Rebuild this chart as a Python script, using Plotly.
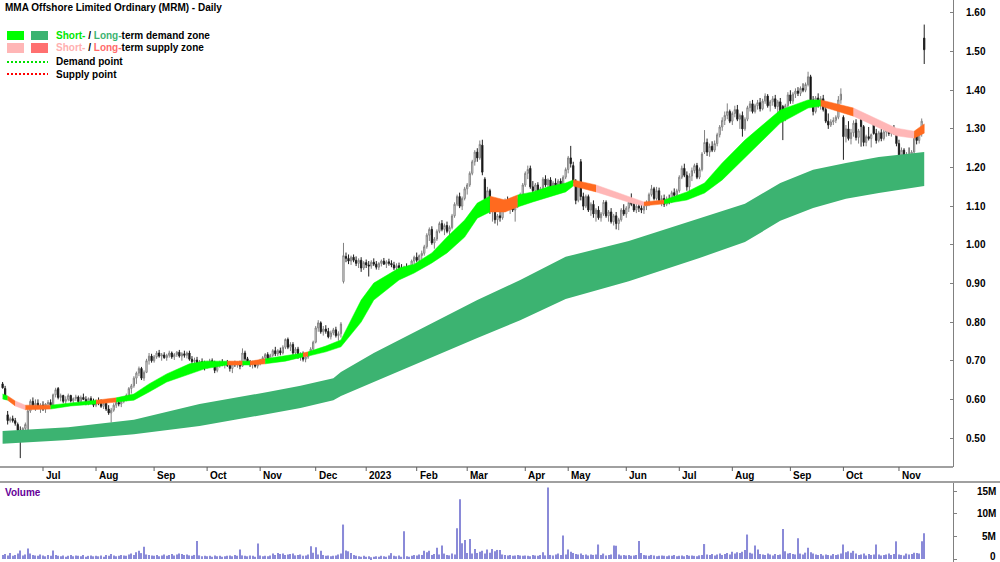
import pandas as pd
import plotly.graph_objects as go

# ---------------- data ----------------
start_date = "2022-06-08"
end_date = "2023-11-15"
asx_holidays = ["2022-06-13", "2022-09-22", "2022-12-26", "2022-12-27", "2023-01-02",
                "2023-01-26", "2023-04-07", "2023-04-10", "2023-04-25", "2023-06-12"]

month_starts = ["2022-07", "2022-08", "2022-09", "2022-10", "2022-11", "2022-12", "2023-01",
                "2023-02", "2023-03", "2023-04", "2023-05", "2023-06", "2023-07", "2023-08",
                "2023-09", "2023-10", "2023-11"]
month_labels = ["Jul", "Aug", "Sep", "Oct", "Nov", "Dec", "2023", "Feb", "Mar", "Apr", "May",
                "Jun", "Jul", "Aug", "Sep", "Oct", "Nov"]

price_ticks = [0.50, 0.60, 0.70, 0.80, 0.90, 1.00, 1.10, 1.20, 1.30, 1.40, 1.50, 1.60]
volume_ticks = [0, 5, 10, 15]
volume_tick_labels = ["0", "5M", "10M", "15M"]

open_ = [
    .640, .628, .560, .545, .550, .545, .535, .520, .510, .525, .515, .570, .595, .585, .590, .578,
    .585, .575, .588, .592, .585, .612, .628, .605, .610, .595, .600, .610, .596, .602, .606, .594, .605, .600, .590, .602, .595,
    .585, .595, .590, .582, .590, .575, .565, .572, .585, .592, .588, .595, .600, .610, .628, .635, .655, .668, .680, .655, .670, .700, .712,
    .700, .710, .720, .712, .715, .708, .714, .720, .710, .716, .722, .712, .718, .714, .720, .704, .698, .702, .694, .698, .692,
    .684, .695, .700, .690, .675, .688, .696, .690, .694, .688, .680, .692, .690, .694, .686, .720, .705, .696, .690, .694, .686,
    .692, .700, .708, .716, .705, .714, .726, .718, .726, .720, .735, .755, .735, .742, .720, .730, .710, .716, .704, .710, .718, .730,
    .748, .785, .798, .775, .782, .776, .762, .772, .780, .765, .770, .905, .970, .965, .958, .968, .960, .952, .960, .940,
    .954, .948, .945, .955, .950, .942, .952, .958, .950, .956, .952, .948, .940, .946, .940, .934, .942, .936, .944, .958,
    .968, .960, .972, .978, .995, 1.025, 1.040, 1.005, 1.015, 1.035, 1.055, 1.040, 1.050, 1.035, 1.045, 1.075, 1.105, 1.125, 1.100, 1.120,
    1.145, 1.155, 1.185, 1.215, 1.240, 1.225, 1.258, 1.170, 1.118, 1.140, 1.090, 1.100, 1.065, 1.075, 1.070, 1.090, 1.115, 1.095, 1.105, 1.090, 1.100, 1.115, 1.130,
    1.155, 1.185, 1.198, 1.150, 1.140, 1.155, 1.135, 1.145, 1.170, 1.155, 1.168, 1.148, 1.160, 1.150, 1.165, 1.155, 1.175,
    1.195, 1.225, 1.205, 1.165, 1.115, 1.215, 1.125, 1.100, 1.125, 1.090, 1.105, 1.080, 1.090, 1.070, 1.080, 1.110, 1.075, 1.085, 1.060, 1.075, 1.055, 1.065, 1.090,
    1.080, 1.095, 1.110, 1.105, 1.090, 1.100, 1.095, 1.090, 1.100, 1.108, 1.130, 1.145, 1.120, 1.140, 1.115, 1.120, 1.105, 1.118, 1.112, 1.135, 1.128,
    1.140, 1.175, 1.198, 1.180, 1.150, 1.178, 1.192, 1.205, 1.175, 1.195, 1.240, 1.265, 1.240, 1.255, 1.245, 1.262, 1.285, 1.305, 1.322, 1.335, 1.345,
    1.320, 1.340, 1.350, 1.325, 1.335, 1.300, 1.325, 1.355, 1.365, 1.345, 1.360, 1.368, 1.352, 1.372, 1.385, 1.360, 1.370, 1.378, 1.358, 1.370, 1.358, 1.328, 1.360,
    1.388, 1.372, 1.390, 1.398, 1.392, 1.405, 1.400, 1.415, 1.435, 1.375, 1.345, 1.380, 1.362, 1.378, 1.350, 1.320, 1.310, 1.318, 1.322, 1.330, 1.375,
    1.330, 1.280, 1.300, 1.275, 1.290, 1.315, 1.278, 1.336, 1.306, 1.265, 1.280, 1.275, 1.314, 1.288, 1.270, 1.290, 1.275, 1.292, 1.298, 1.288, 1.300, 1.292,
    1.262, 1.232, 1.245, 1.222, 1.230, 1.215, 1.240, 1.282, 1.270, 1.288, 1.535,
]
high = [
    .645, .635, .570, .555, .558, .552, .540, .530, .528, .540, .575, .600, .605, .600, .600, .590,
    .595, .590, .598, .600, .615, .630, .632, .615, .612, .608, .615, .612, .605, .612, .610, .610, .615, .608, .605, .608, .602,
    .600, .605, .600, .595, .598, .585, .578, .590, .598, .600, .600, .605, .615, .632, .640, .660, .672, .685, .684, .675, .705, .720, .718,
    .715, .725, .728, .720, .722, .718, .726, .724, .720, .725, .728, .722, .726, .724, .726, .712, .708, .710, .702, .706, .700,
    .700, .705, .706, .700, .692, .700, .704, .698, .702, .698, .696, .700, .698, .700, .732, .726, .710, .702, .700, .700, .698,
    .705, .712, .720, .722, .718, .730, .736, .730, .734, .740, .758, .760, .748, .748, .735, .736, .722, .724, .715, .722, .735, .752,
    .790, .805, .802, .790, .792, .785, .778, .785, .788, .776, .800, 1.005, .980, .975, .972, .975, .970, .965, .968, .958,
    .962, .958, .960, .965, .958, .955, .962, .966, .960, .964, .960, .956, .952, .954, .950, .946, .952, .948, .962, .972,
    .980, .975, .985, 1.000, 1.030, 1.045, 1.048, 1.020, 1.040, 1.060, 1.064, 1.055, 1.060, 1.050, 1.080, 1.110, 1.130, 1.135, 1.125, 1.150,
    1.160, 1.190, 1.220, 1.245, 1.250, 1.270, 1.272, 1.175, 1.150, 1.145, 1.110, 1.110, 1.080, 1.090, 1.095, 1.120, 1.125, 1.110, 1.115, 1.105, 1.120, 1.135, 1.160,
    1.190, 1.205, 1.205, 1.165, 1.160, 1.162, 1.150, 1.175, 1.180, 1.172, 1.175, 1.165, 1.172, 1.170, 1.172, 1.180, 1.200,
    1.230, 1.256, 1.215, 1.170, 1.160, 1.222, 1.135, 1.130, 1.130, 1.110, 1.115, 1.095, 1.100, 1.085, 1.116, 1.115, 1.090, 1.095, 1.080, 1.085, 1.070, 1.095, 1.105,
    1.100, 1.120, 1.133, 1.115, 1.110, 1.112, 1.110, 1.105, 1.115, 1.135, 1.155, 1.150, 1.150, 1.148, 1.128, 1.130, 1.125, 1.130, 1.140, 1.146, 1.145,
    1.180, 1.205, 1.210, 1.190, 1.185, 1.200, 1.210, 1.212, 1.200, 1.240, 1.297, 1.275, 1.262, 1.268, 1.270, 1.290, 1.310, 1.330, 1.345, 1.366, 1.350,
    1.345, 1.360, 1.362, 1.340, 1.345, 1.330, 1.360, 1.372, 1.375, 1.365, 1.375, 1.380, 1.378, 1.392, 1.390, 1.375, 1.385, 1.388, 1.375, 1.380, 1.362, 1.365, 1.395,
    1.400, 1.395, 1.405, 1.408, 1.410, 1.418, 1.420, 1.448, 1.440, 1.385, 1.385, 1.392, 1.385, 1.388, 1.358, 1.340, 1.325, 1.330, 1.335, 1.385, 1.405,
    1.335, 1.310, 1.320, 1.300, 1.322, 1.325, 1.300, 1.340, 1.310, 1.285, 1.305, 1.288, 1.318, 1.300, 1.295, 1.300, 1.298, 1.305, 1.308, 1.305, 1.310, 1.298,
    1.272, 1.252, 1.250, 1.240, 1.252, 1.245, 1.290, 1.295, 1.300, 1.327, 1.570,
]
low = [
    .628, .600, .535, .540, .540, .532, .515, .448, .500, .515, .505, .565, .580, .570, .575, .565,
    .570, .565, .580, .582, .583, .605, .600, .595, .590, .588, .595, .592, .588, .596, .590, .590, .598, .585, .585, .590, .580,
    .580, .585, .578, .575, .570, .560, .540, .568, .578, .582, .580, .590, .595, .605, .615, .630, .640, .660, .650, .648, .668, .690, .695,
    .695, .705, .708, .700, .705, .700, .708, .705, .702, .710, .708, .700, .708, .706, .700, .690, .686, .690, .680, .688, .675,
    .680, .688, .685, .668, .670, .682, .686, .680, .684, .672, .668, .684, .682, .678, .684, .700, .690, .684, .680, .682, .680,
    .688, .692, .700, .698, .700, .710, .712, .712, .714, .716, .730, .730, .725, .715, .712, .705, .700, .698, .696, .705, .715, .728,
    .745, .775, .770, .765, .770, .758, .755, .766, .760, .752, .760, .900, .955, .950, .948, .955, .945, .940, .930, .935,
    .940, .918, .938, .945, .936, .935, .944, .948, .940, .946, .942, .935, .932, .936, .928, .925, .930, .922, .938, .950,
    .955, .950, .962, .972, .990, 1.010, 1.000, .990, 1.010, 1.030, 1.035, 1.025, 1.030, 1.020, 1.040, 1.070, 1.100, 1.095, 1.090, 1.115,
    1.130, 1.150, 1.180, 1.205, 1.215, 1.220, 1.180, 1.110, 1.100, 1.080, 1.060, 1.055, 1.050, 1.060, 1.065, 1.085, 1.090, 1.080, 1.085, 1.060, 1.095, 1.110, 1.125,
    1.150, 1.170, 1.145, 1.130, 1.125, 1.128, 1.125, 1.140, 1.150, 1.145, 1.140, 1.140, 1.145, 1.145, 1.150, 1.150, 1.170,
    1.185, 1.200, 1.160, 1.105, 1.110, 1.115, 1.090, 1.095, 1.085, 1.075, 1.070, 1.060, 1.065, 1.060, 1.075, 1.070, 1.060, 1.055, 1.050, 1.040, 1.038, 1.060, 1.075,
    1.070, 1.085, 1.100, 1.085, 1.082, 1.085, 1.082, 1.080, 1.090, 1.100, 1.125, 1.115, 1.115, 1.110, 1.100, 1.098, 1.100, 1.105, 1.108, 1.120, 1.122,
    1.135, 1.170, 1.175, 1.140, 1.135, 1.165, 1.185, 1.170, 1.170, 1.190, 1.235, 1.230, 1.228, 1.240, 1.240, 1.255, 1.278, 1.295, 1.310, 1.325, 1.315,
    1.310, 1.330, 1.320, 1.300, 1.280, 1.295, 1.320, 1.345, 1.340, 1.340, 1.350, 1.345, 1.348, 1.365, 1.355, 1.345, 1.360, 1.352, 1.340, 1.340, 1.271, 1.320, 1.355,
    1.365, 1.365, 1.380, 1.385, 1.385, 1.395, 1.395, 1.410, 1.370, 1.335, 1.340, 1.355, 1.350, 1.345, 1.315, 1.300, 1.305, 1.310, 1.315, 1.325, 1.365,
    1.220, 1.265, 1.270, 1.260, 1.280, 1.270, 1.262, 1.254, 1.255, 1.255, 1.270, 1.252, 1.285, 1.262, 1.265, 1.268, 1.270, 1.280, 1.282, 1.280, 1.285, 1.255,
    1.225, 1.225, 1.215, 1.210, 1.206, 1.211, 1.235, 1.260, 1.262, 1.280, 1.468,
]
close = [
    .630, .605, .545, .550, .545, .538, .520, .510, .525, .535, .570, .595, .585, .590, .578, .585,
    .575, .588, .592, .585, .612, .625, .605, .610, .595, .600, .610, .596, .602, .606, .594, .605, .600, .590, .602, .595, .585,
    .595, .590, .582, .590, .575, .565, .572, .585, .592, .588, .595, .600, .610, .628, .635, .655, .668, .680, .655, .670, .700, .712, .700,
    .710, .720, .712, .715, .708, .714, .720, .710, .716, .722, .712, .718, .714, .720, .704, .698, .702, .694, .698, .692, .684,
    .695, .700, .690, .675, .688, .696, .690, .694, .688, .680, .692, .690, .694, .686, .720, .705, .696, .690, .694, .686, .692,
    .700, .708, .716, .705, .714, .726, .718, .726, .720, .735, .755, .735, .742, .720, .730, .710, .716, .704, .710, .718, .730, .748,
    .785, .798, .775, .782, .776, .762, .772, .780, .765, .770, .795, .972, .965, .958, .968, .960, .952, .960, .940, .954,
    .948, .945, .955, .950, .942, .952, .958, .950, .956, .952, .948, .940, .946, .940, .934, .942, .936, .944, .958, .968,
    .960, .972, .978, .995, 1.025, 1.040, 1.005, 1.015, 1.035, 1.055, 1.040, 1.050, 1.035, 1.045, 1.075, 1.105, 1.125, 1.100, 1.120, 1.145,
    1.155, 1.185, 1.215, 1.240, 1.225, 1.260, 1.188, 1.118, 1.140, 1.090, 1.100, 1.065, 1.075, 1.070, 1.090, 1.115, 1.095, 1.105, 1.090, 1.100, 1.115, 1.130, 1.155,
    1.185, 1.195, 1.150, 1.140, 1.155, 1.135, 1.145, 1.170, 1.155, 1.168, 1.148, 1.160, 1.150, 1.165, 1.155, 1.175, 1.195,
    1.225, 1.210, 1.165, 1.115, 1.155, 1.125, 1.100, 1.125, 1.090, 1.105, 1.080, 1.090, 1.070, 1.080, 1.110, 1.075, 1.085, 1.060, 1.075, 1.055, 1.065, 1.090, 1.080,
    1.095, 1.110, 1.105, 1.090, 1.100, 1.095, 1.090, 1.100, 1.108, 1.130, 1.145, 1.120, 1.140, 1.115, 1.120, 1.105, 1.118, 1.112, 1.135, 1.128, 1.140,
    1.175, 1.198, 1.180, 1.150, 1.178, 1.192, 1.205, 1.175, 1.195, 1.235, 1.265, 1.240, 1.255, 1.245, 1.262, 1.285, 1.305, 1.322, 1.335, 1.345, 1.320,
    1.340, 1.350, 1.325, 1.335, 1.300, 1.325, 1.355, 1.365, 1.345, 1.360, 1.368, 1.352, 1.372, 1.385, 1.360, 1.370, 1.378, 1.358, 1.370, 1.345, 1.328, 1.360, 1.388,
    1.372, 1.390, 1.398, 1.392, 1.405, 1.400, 1.415, 1.435, 1.375, 1.345, 1.380, 1.362, 1.378, 1.350, 1.320, 1.310, 1.318, 1.322, 1.330, 1.375, 1.390,
    1.280, 1.300, 1.275, 1.290, 1.315, 1.278, 1.295, 1.306, 1.265, 1.280, 1.275, 1.285, 1.288, 1.270, 1.290, 1.275, 1.292, 1.298, 1.288, 1.300, 1.292, 1.262,
    1.232, 1.245, 1.222, 1.230, 1.215, 1.240, 1.282, 1.270, 1.288, 1.320, 1.505,
]
volume_m = [
    0.9, 1.1, 0.8, 1.3, 0.7, 0.9, 1.2, 1.9, 0.8, 1.0, 2.3, 1.2, 0.9, 0.8, 0.7, 1.0,
    0.8, 0.6, 0.9, 0.7, 1.9, 0.9, 0.7, 0.6, 0.8, 0.5, 0.7, 0.9, 0.6, 0.8, 0.7, 0.6, 0.9, 0.5, 0.7, 0.8, 0.6,
    0.7, 0.6, 0.8, 0.5, 0.9, 0.7, 1.1, 0.8, 0.6, 0.7, 0.9, 0.8, 0.7, 1.0, 1.2, 0.9, 1.5, 1.8, 1.3, 2.7, 1.0, 0.9, 0.8,
    0.7, 0.9, 0.6, 0.8, 1.0, 0.7, 0.9, 1.1, 0.8, 1.0, 1.2, 1.1, 0.9, 1.0, 0.8, 0.7, 0.9, 4.0, 0.8, 0.6, 0.7,
    0.6, 0.7, 0.5, 0.8, 0.6, 0.7, 0.5, 0.6, 0.7, 0.8, 0.6, 0.9, 0.7, 2.1, 0.8, 0.7, 0.6, 0.8, 0.7, 0.5, 3.4,
    0.8, 0.6, 0.7, 0.6, 0.8, 1.2, 0.9, 1.3, 1.1, 1.2, 0.9, 1.0, 1.1, 1.2, 0.8, 0.9, 1.0, 0.7, 0.8, 1.0, 2.8, 1.4,
    2.6, 1.0, 1.8, 0.9, 0.7, 0.8, 0.6, 0.7, 0.8, 1.0, 1.2, 7.6, 1.9, 1.7, 1.3, 0.9, 0.7, 0.6, 0.5, 0.7,
    0.5, 0.6, 0.4, 0.5, 0.6, 0.5, 0.7, 0.6, 0.5, 0.8, 1.3, 0.7, 0.6, 0.8, 0.5, 6.1, 0.6, 0.5, 0.7, 0.9,
    0.8, 1.0, 0.9, 1.8, 1.5, 1.8, 0.9, 1.1, 2.5, 1.0, 3.0, 1.2, 0.9, 0.8, 1.2, 1.0, 6.8, 13.2, 3.5, 4.2,
    1.3, 4.4, 1.2, 2.2, 1.3, 1.6, 1.8, 1.2, 2.1, 1.4, 2.2, 1.7, 2.0, 2.0, 1.0, 0.9, 0.8, 0.9, 0.7, 0.8, 0.9, 0.8, 0.7,
    0.8, 0.7, 0.6, 0.9, 0.8, 0.7, 0.9, 1.5, 0.8, 15.8, 0.9, 0.8, 1.0, 1.2, 0.9, 5.2, 1.0,
    2.1, 1.6, 1.3, 1.1, 1.0, 1.2, 0.9, 1.0, 0.8, 1.0, 0.9, 1.0, 3.2, 0.9, 1.2, 0.8, 0.9, 1.0, 3.0, 2.9, 1.0, 0.8, 0.9,
    0.8, 0.9, 0.7, 0.8, 0.9, 4.0, 1.3, 0.9, 0.8, 0.7, 0.9, 0.8, 0.6, 0.7, 0.8, 0.7, 0.6, 0.8, 0.7, 0.9, 0.6,
    0.7, 0.8, 0.6, 0.9, 0.7, 0.8, 0.7, 0.6, 0.8, 0.9, 3.3, 1.0, 0.9, 1.1, 0.8, 1.0, 1.2, 0.9, 1.1, 1.3, 1.0,
    1.6, 1.2, 1.5, 1.3, 1.6, 2.0, 5.4, 1.4, 1.2, 3.0, 2.1, 1.1, 1.0, 0.9, 1.2, 1.0, 0.8, 1.1, 0.9, 1.0, 6.6, 1.7, 1.2,
    1.3, 1.1, 1.0, 4.6, 1.2, 1.0, 1.4, 2.5, 1.5, 1.2, 1.0, 0.9, 1.1, 0.8, 1.0, 0.9, 0.8, 1.1, 0.9, 1.0, 1.2,
    3.2, 1.5, 1.7, 1.4, 1.8, 1.2, 0.9, 1.0, 1.2, 0.8, 1.1, 0.9, 1.0, 3.2, 1.0, 0.8, 0.9, 1.0, 1.2, 0.9, 1.1, 3.9,
    1.0, 0.9, 0.8, 1.2, 1.0, 1.1, 1.4, 1.3, 1.2, 3.9, 5.7,
]

# short-term zone (knots at bar indices); st_zone = state of each segment between knots
st_idx = [0, 2, 5, 9, 19, 27, 37, 45, 52, 58, 65, 74, 80, 89, 95, 98, 104, 112, 119, 121, 128, 134,
          142, 147, 157, 163, 170, 176, 183, 188, 193, 199, 204, 210, 216, 223, 226, 235, 249, 254,
          262, 271, 278, 285, 294, 308, 319, 324, 337, 354, 361, 365]
st_hi = [.614, .609, .596, .585, .585, .591, .598, .604, .614, .640, .666, .692, .699, .699, .699, .699,
         .705, .712, .720, .723, .738, .754, .857, .901, .940, .950, .979, 1.020, 1.064, 1.108, 1.126,
         1.116, 1.129, 1.137, 1.150, 1.160, 1.168, 1.155, 1.124, 1.111, 1.116, 1.137, 1.160, 1.212,
         1.271, 1.349, 1.375, 1.375, 1.354, 1.302, 1.294, 1.313]
st_lo = [.601, .598, .583, .573, .575, .583, .588, .593, .598, .619, .645, .666, .679, .689, .689, .689,
         .692, .699, .710, .712, .723, .736, .800, .857, .909, .927, .953, .979, 1.020, 1.069, 1.085,
         1.085, 1.098, 1.111, 1.124, 1.137, 1.152, 1.137, 1.108, 1.101, 1.106, 1.116, 1.134, 1.168,
         1.225, 1.315, 1.354, 1.359, 1.333, 1.282, 1.276, 1.289]
st_zone = ["G", "O", "P", "O", "G", "G", "O", "G", "G", "G",
           "G", "G", "G", "O", "G", "O", "G", "G", "O", "G",
           "G", "G", "G", "G", "G", "G", "G", "G", "G", "G",
           "O", "O", "G", "G", "G", "G", "O", "P", "P", "O",
           "G", "G", "G", "G", "G", "G", "G", "O", "P", "P",
           "O"]

# long-term zone knots
lt_idx = [0, 26, 52, 78, 105, 118, 131, 134, 147, 188, 205, 223, 248, 276, 294, 308, 321, 334, 347, 365]
lt_hi = [.518, .528, .547, .588, .619, .635, .655, .671, .720, .857, .909, .969, 1.010, 1.069, 1.106,
         1.160, 1.194, 1.212, 1.227, 1.240]
lt_lo = [.485, .495, .510, .531, .562, .578, .598, .609, .645, .759, .805, .860, .906, .966, 1.007,
         1.062, 1.095, 1.119, 1.134, 1.152]

# ---------------- build ----------------
dates = pd.bdate_range(start_date, end_date)
dates = dates[~dates.isin(pd.to_datetime(asx_holidays))]
n = len(dates)
assert n == len(open_) == len(high) == len(low) == len(close) == len(volume_m), (
    n, len(open_), len(high), len(low), len(close), len(volume_m))
assert len(st_idx) == len(st_hi) == len(st_lo) == len(st_zone) + 1
idx = list(range(n))
ym = list(dates.strftime("%Y-%m"))
month_idx = [ym.index(m) for m in month_starts]

W, H = 1000, 562
PLOT_R = 953
FONT = "Arial"


def py(y):
    return 1 - y / H


def px(x):
    return x / PLOT_R


zone_colors = {"G": "#00FF00", "O": "#FF6A1F", "P": "#FFB6B6"}

fig = go.Figure()

# long-term band
fig.add_trace(go.Scatter(x=lt_idx + lt_idx[::-1], y=lt_hi + lt_lo[::-1], fill="toself",
                         fillcolor="#3CB371", line=dict(width=0), mode="lines",
                         hoverinfo="skip", xaxis="x", yaxis="y"))

# short-term band, split into runs of equal state
k = 0
while k < len(st_zone):
    j = k
    while j + 1 < len(st_zone) and st_zone[j + 1] == st_zone[k]:
        j += 1
    xs = st_idx[k:j + 2]
    hi = st_hi[k:j + 2]
    lo = st_lo[k:j + 2]
    col = zone_colors[st_zone[k]]
    fig.add_trace(go.Scatter(x=xs + xs[::-1], y=hi + lo[::-1], fill="toself",
                             fillcolor=col, line=dict(width=0.5, color=col),
                             mode="lines", hoverinfo="skip", xaxis="x", yaxis="y"))
    k = j + 1

fig.add_trace(go.Candlestick(
    x=idx, open=open_, high=high, low=low, close=close,
    increasing=dict(line=dict(color="#808080", width=1), fillcolor="#FFFFFF"),
    decreasing=dict(line=dict(color="#202020", width=1), fillcolor="#000000"),
    whiskerwidth=0, xaxis="x", yaxis="y", hoverinfo="skip"))

fig.add_trace(go.Bar(x=idx, y=volume_m, marker=dict(color="#8A8AD8", line=dict(width=0)),
                     width=0.45, xaxis="x2", yaxis="y2", hoverinfo="skip"))

x_range = [-1.03, 376.4]
fig.update_layout(
    width=W, height=H, margin=dict(l=0, r=W - PLOT_R, t=0, b=0),
    paper_bgcolor="white", plot_bgcolor="white", showlegend=False,
    xaxis=dict(domain=[0, 1], range=x_range, visible=False, rangeslider=dict(visible=False),
               anchor="y", fixedrange=True),
    xaxis2=dict(domain=[0, 1], range=x_range, visible=False, matches="x", anchor="y2"),
    yaxis=dict(domain=[py(467), 1], range=[0.425, 1.6336], side="right", anchor="x",
               tickvals=price_ticks, ticktext=[f"{v:.2f}" for v in price_ticks],
               tickfont=dict(family=FONT, size=10, color="#000000", weight="bold"),
               ticks="inside", ticklen=3, tickcolor="#808080", ticklabelstandoff=10,
               showline=True, linecolor="#808080", linewidth=1, showgrid=False, zeroline=False),
    yaxis2=dict(domain=[0, py(482)], range=[-0.66, 16.99], side="right", anchor="x2",
                tickvals=volume_ticks, showticklabels=False, ticks="outside", ticklen=3,
                tickcolor="#808080", showline=True, linecolor="#808080", linewidth=1,
                showgrid=False, zeroline=False),
)

shapes = []
annotations = []
# date strip
shapes.append(dict(type="line", xref="paper", yref="paper", x0=0, x1=1, y0=py(467), y1=py(467),
                   line=dict(color="#A0A0A0", width=2)))
shapes.append(dict(type="line", xref="paper", yref="paper", x0=0, x1=px(1000), y0=py(482), y1=py(482),
                   line=dict(color="#A0A0A0", width=2)))
for mi, lab in zip(month_idx, month_labels):
    shapes.append(dict(type="line", xref="x", yref="paper", x0=mi, x1=mi, y0=py(467), y1=py(471),
                       line=dict(color="#606060", width=1)))
    annotations.append(dict(xref="x", yref="paper", x=mi, y=py(475), text=lab, showarrow=False,
                            xanchor="left", yanchor="middle", xshift=1,
                            font=dict(family=FONT, size=10, color="#000000", weight="bold")))

# volume labels
for v, t in zip(volume_ticks, volume_tick_labels):
    annotations.append(dict(xref="paper", yref="y2", x=px(998), y=v, text=t, showarrow=False,
                            xanchor="right", yanchor="middle", yshift=(3 if v == 0 else 0),
                            font=dict(family=FONT, size=10, color="#000000", weight="bold")))
annotations.append(dict(xref="paper", yref="paper", x=px(3), y=py(492), text="Volume", showarrow=False,
                        xanchor="left", yanchor="middle",
                        font=dict(family=FONT, size=10, color="#660099", weight="bold")))

# title
annotations.append(dict(xref="paper", yref="paper", x=px(3), y=py(8),
                        text="MMA Offshore Limited Ordinary (MRM) - Daily", showarrow=False,
                        xanchor="left", yanchor="middle",
                        font=dict(family=FONT, size=10, color="#000000", weight="bold")))

# legend
legend_boxes = [(7, 24, 31, 40, "#00FF00"), (31, 48, 31, 40, "#3CB371"),
                (7, 24, 43, 53, "#FFB6B6"), (31, 48, 43, 53, "#FF7070")]
for x0, x1, y0, y1, c in legend_boxes:
    shapes.append(dict(type="rect", xref="paper", yref="paper", x0=px(x0), x1=px(x1),
                       y0=py(y1), y1=py(y0), fillcolor=c, line=dict(width=0)))
shapes.append(dict(type="line", xref="paper", yref="paper", x0=px(7), x1=px(48), y0=py(62), y1=py(62),
                   line=dict(color="#00E000", width=2, dash="2px,2px")))
shapes.append(dict(type="line", xref="paper", yref="paper", x0=px(7), x1=px(48), y0=py(74), y1=py(74),
                   line=dict(color="#FF0000", width=2, dash="2px,2px")))
legend_texts = [
    (35.5, '<span style="color:#00E600">Short-</span> / <span style="color:#3CB371">Long-</span>term demand zone'),
    (48, '<span style="color:#FFB0B0">Short-</span> / <span style="color:#FF6B6B">Long-</span>term supply zone'),
    (62, "Demand point"),
    (74.5, "Supply point"),
]
for yy, t in legend_texts:
    annotations.append(dict(xref="paper", yref="paper", x=px(54), y=py(yy), text=t, showarrow=False,
                            xanchor="left", yanchor="middle",
                            font=dict(family=FONT, size=10, color="#000000", weight="bold")))

fig.update_layout(shapes=shapes, annotations=annotations)
fig.write_html("out.html", config={"displayModeBar": False})
